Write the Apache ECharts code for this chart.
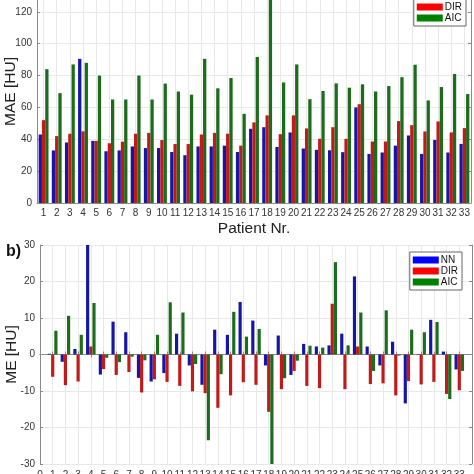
<!DOCTYPE html>
<html><head><meta charset="utf-8">
<script src="https://cdn.jsdelivr.net/npm/echarts@6/dist/echarts.min.js"></script>
<style>html,body{margin:0;padding:0;background:#fff}#c{width:474px;height:474px}</style>
</head><body><div id="c"></div>
<script>
const patients = [1,2,3,4,5,6,7,8,9,10,11,12,13,14,15,16,17,18,19,20,21,22,23,24,25,26,27,28,29,30,31,32,33];
const seriesNames = ['NN','DIR','AIC'];
// MAE [HU]
const maeNN  = [43,33,38,90.5,39,32.5,33,35.5,34.5,34.5,32,30,35.5,35.5,36,32,46.6,47.6,35.2,44.3,34.2,33.4,33.1,31.9,60,30.8,31.7,36,42.4,30.8,39.6,31.7,37.1];
const maeDIR = [52,42,43.5,45,39,37.5,38.5,43.5,44,39.5,37,37,43,44,43.5,36,50.6,55,43.2,55,46.8,40.3,47.6,40.3,62,38.6,38.6,51.4,48.9,44.9,51.2,44.3,47];
const maeAIC = [84,69,87,88,80,65,65,80,65,75,70,68,90.5,72,78.5,56,91.7,135,75.7,87,65.2,70.3,75.1,72.4,74.5,70,73.4,79,86.8,64.4,72.8,81,68.4];
// ME [HU]
const meNN  = [0.2,-2,1.5,31,-5.5,9,6.1,-6.4,-7.4,-5.1,5.7,-3,-8.3,6.8,5.4,14.4,9.3,-3,5.2,-5.6,2.9,2.2,2.5,5.7,21.4,2.2,-3,3.5,-13.4,-0.1,9.5,0.8,-4.1];
const meDIR = [-6.1,-8.4,-7.4,2.2,-4,-5.6,-4.8,-10.4,-6.8,-7.5,-8.6,-10.1,-10.6,-14.6,-11.2,-7.6,-8.3,-15.7,-9.5,-4.5,-8.6,-9.2,13.9,-9.5,2.2,-8.1,-7.9,-11.2,-7.3,-8.2,-7.5,-10.8,-9.8];
const meAIC = [6.5,10.6,5.4,14.1,-0.9,-2.1,-0.6,-1.6,5.4,14.3,11.5,-2.6,-23.5,-5.4,11.7,4.9,7,-32,-6.5,-1.7,2.4,1.9,25.3,2.5,11.5,-4.5,12.1,-0.3,6.8,6.1,8.9,-12.2,-4.5];
const maeTicks = [0,20,40,60,80,100,120,140];
const meTicks = [-30,-20,-10,0,10,20,30];
const bottomTickLabels = [0,1,2,3,4,5,6,7,8,9,10,11,12,13,14,15,16,17,18,19,20,21,22,23,24,25,26,27,28,29,30,31,32,33,34];

const barColors = ['#1616a6','#c01a1a','#1c6c1c'];
const legendColors = ['#0000ff','#ff0000','#008000'];
const font = 'Liberation Sans, Arial, sans-serif';
const axisGray = '#8a8a8a';
const gridGray = '#e8e8e8';

const chart = echarts.init(document.getElementById('c'), null, {renderer:'canvas'});
const pad = a => [null].concat(a, [null]);
const topData = [maeNN, maeDIR, maeAIC];
const botData = [meNN, meDIR, meAIC].map(pad);

const series = [];
seriesNames.forEach((n,i)=>{
  series.push({name:n,type:'bar',xAxisIndex:0,yAxisIndex:0,data:topData[i],
    barWidth:'25%',barGap:'0%',itemStyle:{color:barColors[i]},z:3});
});
seriesNames.forEach((n,i)=>{
  series.push({name:n,type:'bar',xAxisIndex:1,yAxisIndex:2,data:botData[i],
    barWidth:'25%',barGap:'0%',itemStyle:{color:barColors[i]},z:3});
});

const legendData = seriesNames.map((n,i)=>({name:n,itemStyle:{color:legendColors[i]}}));
const legendBase = {orient:'vertical',data:legendData,itemWidth:26,itemHeight:7,itemGap:1,
  backgroundColor:'#fff',borderColor:'#666',borderWidth:1,borderRadius:0,padding:[3,4,3,3],
  textStyle:{fontFamily:font,fontSize:10,color:'#111',padding:[0,0,0,-3]},icon:'rect',selectedMode:false};

const axisLabelStyle = {fontFamily:font,fontSize:10,color:'#333'};
const yNameStyle = {fontFamily:font,fontSize:15.5,color:'#222'};

const option = {
  animation:false,
  backgroundColor:'#fff',
  grid:[
    {left:37,right:3,top:-20,bottom:271,containLabel:false,outerBoundsMode:'none'},
    {left:40,right:2,top:245,bottom:10,containLabel:false,outerBoundsMode:'none'}
  ],
  legend:[
    Object.assign({},legendBase,{right:8,top:-12}),
    Object.assign({},legendBase,{right:12,top:252})
  ],
  xAxis:[
    {type:'category',gridIndex:0,data:patients,boundaryGap:true,
     axisLine:{lineStyle:{color:axisGray}},
     axisTick:{inside:true,alignWithLabel:true,length:3,lineStyle:{color:axisGray}},
     axisLabel:Object.assign({margin:5,interval:0},axisLabelStyle),
     splitLine:{show:true,alignWithLabel:true,lineStyle:{color:gridGray}},
     name:'Patient Nr.',nameLocation:'middle',nameGap:18,nameMoveOverlap:false,
     nameTextStyle:{fontFamily:font,fontSize:15.5,color:'#222'}},
    {type:'category',gridIndex:1,data:bottomTickLabels,boundaryGap:false,
     axisLine:{lineStyle:{color:axisGray}},
     axisTick:{inside:true,length:3,lineStyle:{color:axisGray}},
     axisLabel:Object.assign({margin:6,interval:0,formatter:(v)=>v==='34'?'':v},axisLabelStyle),
     splitLine:{show:true,lineStyle:{color:gridGray}}},
    {type:'category',gridIndex:1,data:bottomTickLabels,boundaryGap:false,position:'top',
     axisLine:{lineStyle:{color:axisGray}},
     axisTick:{inside:true,length:3,lineStyle:{color:axisGray}},
     axisLabel:{show:false},splitLine:{show:false}}
  ],
  yAxis:[
    {type:'value',gridIndex:0,min:maeTicks[0],max:maeTicks[maeTicks.length-1],interval:20,
     axisLine:{show:true,lineStyle:{color:axisGray}},
     axisTick:{show:true,inside:true,length:3,lineStyle:{color:axisGray}},
     axisLabel:Object.assign({margin:5},axisLabelStyle),
     splitLine:{show:true,lineStyle:{color:gridGray}},
     name:'MAE [HU]',nameLocation:'middle',nameGap:18,nameMoveOverlap:false,
     nameTextStyle:yNameStyle},
    {type:'value',gridIndex:0,position:'right',min:0,max:140,interval:20,
     axisLine:{show:true,lineStyle:{color:axisGray}},
     axisTick:{show:true,inside:true,length:3,lineStyle:{color:axisGray}},
     axisLabel:{show:false},splitLine:{show:false}},
    {type:'value',gridIndex:1,min:meTicks[0],max:meTicks[meTicks.length-1],interval:10,
     axisLine:{show:true,lineStyle:{color:axisGray}},
     axisTick:{show:true,inside:true,length:3,lineStyle:{color:axisGray}},
     axisLabel:Object.assign({margin:5},axisLabelStyle),
     splitLine:{show:true,lineStyle:{color:gridGray}},
     name:'ME [HU]',nameLocation:'middle',nameGap:20,nameMoveOverlap:false,
     nameTextStyle:yNameStyle},
    {type:'value',gridIndex:1,position:'right',min:-30,max:30,interval:10,
     axisLine:{show:true,lineStyle:{color:axisGray}},
     axisTick:{show:true,inside:true,length:3,lineStyle:{color:axisGray}},
     axisLabel:{show:false},splitLine:{show:false}}
  ],
  graphic:[
    {type:'text',left:6,top:244,style:{text:'b)',font:'bold 16px '+font,fill:'#111'}}
  ],
  series:series
};
chart.setOption(option);
</script>
</body></html>
